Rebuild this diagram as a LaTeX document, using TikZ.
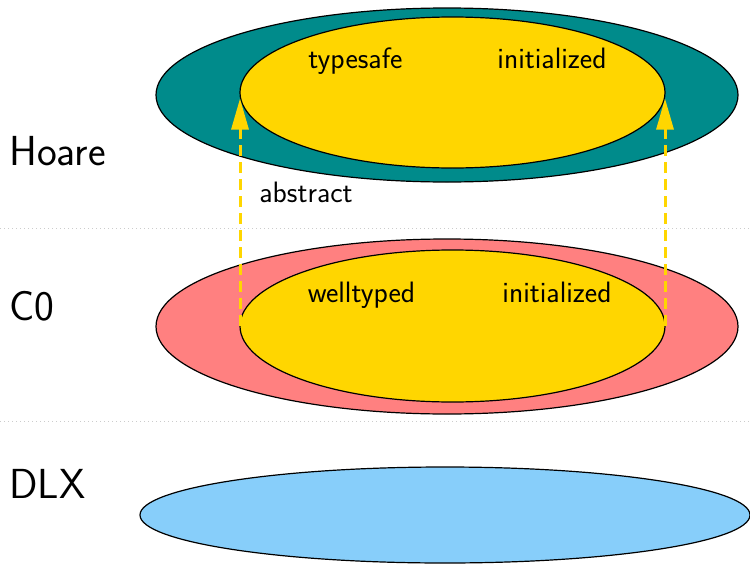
\documentclass[tikz,border=0pt]{standalone}
\usepackage{fontspec}
\usetikzlibrary{shapes.geometric,arrows.meta}
\definecolor{hoarecol}{RGB}{0,139,139}
\definecolor{cocol}{RGB}{255,128,128}
\definecolor{dlxcol}{RGB}{135,206,250}
\definecolor{propcol}{RGB}{255,214,0}
\begin{document}
\begin{tikzpicture}[x=1pt,y=-1pt,
  blob/.style={ellipse,draw=black,line width=1.2pt,inner sep=0pt,outer sep=0pt},
  level/.style={font=\sffamily\fontsize{42}{50}\selectfont,anchor=base west,inner sep=0pt},
  prop/.style={font=\sffamily\fontsize{29.5}{35}\selectfont,anchor=base,inner sep=0pt},
  separator/.style={draw=gray!40,line width=0.9pt,dash pattern=on 1pt off 3pt},
  abstraction/.style={draw=propcol,line width=3pt,dash pattern=on 11pt off 6pt,
    -{Triangle[width=17pt,length=31pt]},shorten >=6pt}]
  \useasboundingbox (0,0) rectangle (750,565);

  % layer separators
  \coordinate (s1l) at (0,228);   \coordinate (s1r) at (750,228);
  \coordinate (s2l) at (0,421);   \coordinate (s2r) at (750,421);
  \draw[separator] (s1l) -- (s1r);
  \draw[separator] (s2l) -- (s2r);

  % Hoare layer
  \node[blob,fill=hoarecol,minimum width=582pt,minimum height=174pt] (hoare) at (447,95) {};
  \node[blob,fill=propcol,minimum width=425pt,minimum height=151pt] (hoarein) at (452.5,92.5) {};
  \node[prop] (typesafe) at (355.5,68) {typesafe};
  \node[prop] (hinit) at (552,68) {initialized};

  % C0 layer
  \node[blob,fill=cocol,minimum width=582pt,minimum height=175pt] (czero) at (447,326.5) {};
  \node[blob,fill=propcol,minimum width=425pt,minimum height=152pt] (czeroin) at (452.5,326) {};
  \node[prop] (welltyped) at (361.5,302) {welltyped};
  \node[prop] (cinit) at (557,302) {initialized};

  % DLX layer
  \node[blob,fill=dlxcol,minimum width=610pt,minimum height=96pt] (dlx) at (445,515) {};

  % level names
  \node[level] (lhoare) at (9,165) {Hoare};
  \node[level] (lczero) at (9,320) {C0};
  \node[level] (ldlx) at (9,498) {DLX};

  % abstraction arrows
  \draw[abstraction] (czeroin.west) -- (hoarein.west);
  \draw[abstraction] (czeroin.east) -- (hoarein.east);
  \node[prop] (abstract) at (306,202) {abstract};
\end{tikzpicture}
\end{document}
